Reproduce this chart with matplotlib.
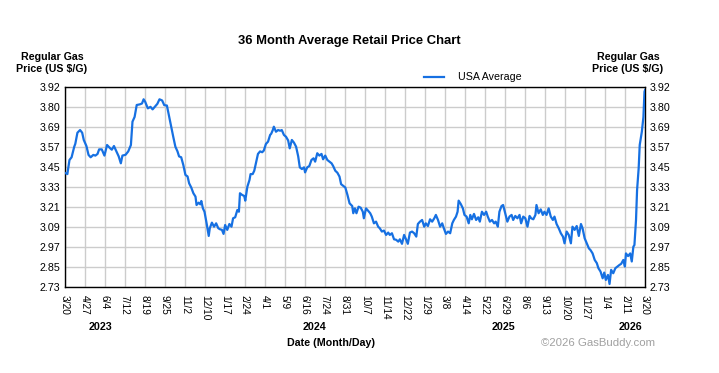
import numpy as np
import pandas as pd
import matplotlib
matplotlib.use("Agg")
import matplotlib.pyplot as plt

plt.rcParams['font.family'] = ['Liberation Sans', 'DejaVu Sans']

# Data: day offsets from 2023-03-20 and average regular gas price (USD/gal)
start_date = "2023-03-20"
days = [0, 5, 9, 13, 18, 20, 24, 29, 33, 36, 41, 45, 49, 54, 58, 62, 65, 70, 75, 80,
        86, 89, 93, 97, 102, 106, 109, 115, 120, 125, 128, 132, 136, 142, 146, 149, 152, 157, 162, 166,
        170, 175, 179, 184, 188, 193, 196, 201, 205, 209, 213, 216, 220, 224, 228, 232, 235, 239, 243, 247,
        249, 253, 256, 258, 261, 264, 268, 272,
        274, 278, 282, 286, 290, 293, 297, 300, 303, 307, 311, 315, 318, 322, 326, 329, 331, 335, 339, 341,
        345, 349, 351, 355, 358, 361, 365, 369, 373, 376, 380, 384, 388, 390, 393, 395, 399, 403, 407, 410,
        414, 418, 422, 425, 429, 433, 437, 441, 444, 448, 452, 454, 458, 462, 466, 470, 473, 477, 481, 485,
        488, 492, 496, 500, 504, 507, 511, 515, 519, 522, 526, 530, 534, 538,
        543, 545, 548, 551, 555, 559, 563, 565, 569, 573, 577, 580, 584, 588, 592, 595, 599, 603, 607, 611,
        614, 618, 622, 626, 630, 633, 637, 641, 645, 648, 652, 656, 660, 664, 667, 671, 675, 679, 682, 686,
        690, 694, 698, 701, 705, 709, 713, 716, 720, 724, 728, 732, 735, 739, 742, 744, 748, 752, 755, 759,
        763, 766, 769, 773, 777, 781, 784,
        788, 792, 796, 799, 803, 807, 811, 814, 818, 821, 825, 828, 832, 836, 840, 844, 847, 851, 855, 859,
        862, 866, 870, 874, 878, 881, 885, 889, 891, 895, 899, 903, 906, 910, 914, 918, 922, 925, 929, 933,
        937, 941, 944, 948, 952, 956, 959, 963, 967, 971, 975, 978, 982, 986, 990, 993, 997, 1001, 1005, 1008,
        1012, 1016, 1019, 1022, 1026, 1029, 1032, 1036, 1040, 1044, 1048, 1051, 1055, 1058, 1060, 1064, 1068, 1071, 1074, 1076,
        1079, 1081, 1084, 1086, 1090, 1093, 1095, 1096]
prices = [3.408, 3.40, 3.484, 3.50, 3.563, 3.58, 3.646, 3.662, 3.646, 3.603, 3.567, 3.514, 3.50, 3.514, 3.51, 3.52, 3.547, 3.547, 3.51, 3.573,
          3.553, 3.545, 3.567, 3.54, 3.505, 3.464, 3.51, 3.515, 3.535, 3.573, 3.712, 3.74, 3.811, 3.815, 3.82, 3.845, 3.83, 3.791, 3.80, 3.785,
          3.80, 3.818, 3.845, 3.838, 3.81, 3.808, 3.761, 3.682, 3.622, 3.563, 3.535, 3.505, 3.50, 3.454, 3.395, 3.386, 3.345, 3.32, 3.286, 3.266,
          3.216, 3.23, 3.22, 3.24, 3.196, 3.176, 3.107, 3.032,
          3.078, 3.111, 3.087, 3.107, 3.078, 3.072, 3.068, 3.044, 3.097, 3.068, 3.103, 3.087, 3.137, 3.143, 3.186, 3.176, 3.286, 3.276, 3.27, 3.242,
          3.325, 3.365, 3.40, 3.40, 3.42, 3.464, 3.52, 3.535, 3.53, 3.54, 3.579, 3.593, 3.633, 3.64, 3.662, 3.682, 3.652, 3.662, 3.658, 3.662,
          3.633, 3.622, 3.60, 3.553, 3.603, 3.587, 3.563, 3.505, 3.44, 3.43, 3.44, 3.41, 3.44, 3.448, 3.484, 3.494, 3.474, 3.524, 3.51, 3.52,
          3.488, 3.51, 3.484, 3.474, 3.464, 3.448, 3.42, 3.408, 3.385, 3.34, 3.33, 3.32, 3.276, 3.226,
          3.21, 3.167, 3.196, 3.167, 3.206, 3.20, 3.176, 3.137, 3.196, 3.182, 3.167, 3.147, 3.107, 3.117, 3.087, 3.078, 3.058, 3.064, 3.038, 3.052,
          3.038, 3.048, 3.012, 3.009, 2.998, 3.012, 2.985, 3.038, 3.009, 2.985, 3.052, 3.058, 3.048, 3.028, 3.103, 3.117, 3.127, 3.087, 3.107, 3.091,
          3.131, 3.117, 3.137, 3.157, 3.127, 3.087, 3.107, 3.078, 3.044, 3.058, 3.048, 3.107, 3.127, 3.147, 3.176, 3.242, 3.222, 3.196, 3.157, 3.147,
          3.107, 3.157, 3.131, 3.163, 3.127, 3.143, 3.117,
          3.176, 3.157, 3.176, 3.147, 3.117, 3.127, 3.107, 3.117, 3.087, 3.176, 3.21, 3.216, 3.167, 3.117, 3.147, 3.157, 3.127, 3.151, 3.137, 3.157,
          3.107, 3.147, 3.137, 3.087, 3.151, 3.137, 3.131, 3.157, 3.216, 3.167, 3.19, 3.157, 3.176, 3.157, 3.196, 3.147, 3.127, 3.147, 3.103, 3.078,
          3.048, 3.028, 2.988, 3.058, 3.038, 2.988, 3.087, 3.068, 3.091, 3.032, 3.103, 3.078, 3.018, 2.988, 2.958, 2.948, 2.928, 2.889, 2.87, 2.84,
          2.82, 2.78, 2.814, 2.77, 2.80, 2.746, 2.83, 2.81, 2.84, 2.85, 2.86, 2.866, 2.889, 2.85, 2.928, 2.912, 2.928, 2.88, 2.968, 2.978,
          3.127, 3.305, 3.434, 3.573, 3.652, 3.74, 3.89, 3.90]

x_tick_labels = ["3/20", "4/27", "6/4", "7/12", "8/19", "9/25", "11/2", "12/10", "1/17", "2/24",
                 "4/1", "5/9", "6/16", "7/24", "8/31", "10/7", "11/14", "12/22", "1/29", "3/8",
                 "4/14", "5/22", "6/29", "8/6", "9/13", "10/20", "11/27", "1/4", "2/11", "3/20"]
y_tick_labels = ["2.73", "2.85", "2.97", "3.09", "3.21", "3.33", "3.45", "3.57", "3.69", "3.80", "3.92"]
year_labels = ["2023", "2024", "2025", "2026"]
year_days = [68, 472, 828, 1068]
series_name = "USA Average"
y_min, y_max = 2.73, 3.92
total_days = 1096

fig = plt.figure(figsize=(7.19, 3.73), dpi=100)
ax = fig.add_axes([0.0900, 0.2314, 0.8071, 0.5362])

line_color = "#1670e2"
ax.plot(days, prices, color=line_color, lw=1.6, solid_joinstyle="round", label=series_name, zorder=3)

ax.set_xlim(0, total_days)
ax.set_ylim(y_min, y_max)
xt = np.linspace(0, total_days, len(x_tick_labels))
ax.set_xticks(xt)
ax.set_xticklabels(x_tick_labels, rotation=-90, fontsize=7.3, va="top", ha="center")
yt = np.linspace(y_min, y_max, len(y_tick_labels))
ax.set_yticks(yt)
ax.set_yticklabels(y_tick_labels, fontsize=7.7)
ax.tick_params(axis="both", length=0, pad=3)
ax.tick_params(axis="x", pad=6)
ax.tick_params(axis="y", labelright=True, right=False)

ax.grid(True, color="#cccccc", lw=1.0)
ax.set_axisbelow(True)
for sp in ax.spines.values():
    sp.set_color("black")
    sp.set_linewidth(1.0)

# Year labels
for yl, yd in zip(year_labels, year_days):
    ax.text(yd, -0.2, yl, transform=ax.get_xaxis_transform(), ha="center", va="center",
            fontsize=7.7, fontweight="bold")

# Titles and labels
fig.text(349 / 719, 1 - 41 / 373, "36 Month Average Retail Price Chart", ha="center", va="center",
         fontsize=9.4, fontweight="bold")
for xc in (52, 628):
    fig.text(xc / 719, 1 - 63 / 373, "Regular Gas\nPrice (US $/G)", ha="center", va="center",
             fontsize=7.7, fontweight="bold", linespacing=1.15)
fig.text(331 / 719, 1 - 343 / 373, "Date (Month/Day)", ha="center", va="center", fontsize=7.7,
         fontweight="bold")
fig.text(655 / 719, 1 - 342.5 / 373, "\u00a92026 GasBuddy.com", ha="right", va="center",
         fontsize=8.2, color="#a0a0a0")

leg = fig.legend(loc="center left", bbox_to_anchor=(424 / 719, 1 - 77.5 / 373), frameon=False,
                 fontsize=7.7, handlelength=1.9, handletextpad=1.3, borderpad=0, borderaxespad=0)

fig.savefig("out.png", dpi=100, facecolor="white")
